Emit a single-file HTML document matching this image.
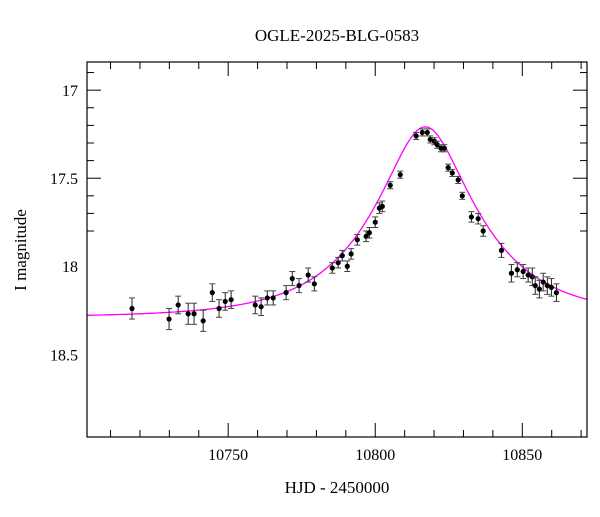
<!DOCTYPE html>
<html><head><meta charset="utf-8"><style>
body{margin:0;background:#fff;}
svg text{font-family:"Liberation Serif",serif;fill:#000;}
</style></head><body>
<svg id="chart" width="600" height="512" xmlns="http://www.w3.org/2000/svg">
<rect width="600" height="512" fill="#fff"/>
<text x="337" y="41" font-size="17" text-anchor="middle">OGLE-2025-BLG-0583</text>
<text x="337" y="493" font-size="17" text-anchor="middle">HJD - 2450000</text>
<text transform="translate(26,250) rotate(-90)" font-size="17" text-anchor="middle">I magnitude</text>
<g id="ticks"></g>
<g id="model"></g>
<g id="points"></g>
<rect x="87" y="62" width="500" height="375" fill="none" stroke="#000" stroke-width="1.2"/>
</svg>
<script>
const hjd=[10717.3,10729.9,10733.0,10736.4,10738.4,10741.5,10744.6,10746.9,10749.0,10751.0,10759.2,10761.2,10763.3,10765.3,10769.7,10771.8,10774.1,10777.2,10779.3,10785.4,10787.4,10788.8,10790.5,10791.8,10793.9,10796.9,10798.0,10800.0,10801.4,10802.4,10805.1,10808.5,10813.9,10816.0,10817.7,10818.7,10820.1,10821.1,10822.4,10823.5,10824.8,10826.2,10828.2,10829.6,10832.7,10835.0,10836.7,10842.9,10846.3,10848.3,10850.3,10852.0,10853.4,10854.4,10855.8,10857.1,10858.5,10859.9,10861.6];
const mag=[18.24,18.30,18.22,18.27,18.27,18.31,18.15,18.24,18.20,18.19,18.22,18.23,18.18,18.18,18.15,18.07,18.11,18.05,18.10,18.01,17.98,17.94,18.00,17.93,17.85,17.83,17.81,17.75,17.67,17.66,17.54,17.48,17.26,17.24,17.24,17.28,17.29,17.31,17.33,17.33,17.44,17.47,17.51,17.60,17.72,17.73,17.80,17.91,18.04,18.02,18.03,18.05,18.06,18.11,18.13,18.09,18.11,18.12,18.15];
const err=[0.06,0.06,0.05,0.06,0.06,0.06,0.05,0.05,0.05,0.05,0.05,0.05,0.04,0.04,0.04,0.04,0.04,0.04,0.04,0.03,0.03,0.03,0.03,0.03,0.03,0.03,0.03,0.03,0.03,0.03,0.02,0.02,0.02,0.02,0.02,0.02,0.02,0.02,0.02,0.02,0.02,0.02,0.02,0.02,0.03,0.03,0.03,0.04,0.05,0.04,0.04,0.04,0.05,0.05,0.05,0.05,0.05,0.05,0.05];
const xTicks=[10750,10800,10850];
const yTicks=[17,17.5,18,18.5];
const fit={t0:10817,u0:0.39,tE:33.5,base:18.29};
const X0=10702,X1=10872,Y0=16.84,Y1=18.97;
const L=87,R=587,T=62,B=437;
const sx=v=>L+(v-X0)/(X1-X0)*(R-L);
const sy=v=>T+(v-Y0)/(Y1-Y0)*(B-T);
const NS="http://www.w3.org/2000/svg";
function mk(tag,attrs,parent){const e=document.createElementNS(NS,tag);for(const k in attrs)e.setAttribute(k,attrs[k]);parent.appendChild(e);return e;}
const tg=document.getElementById('ticks');
for(let v=10710;v<=10870;v+=10){const x=sx(v);const big=v%50===0;const l=big?14:7;
 const a=mk('line',{x1:x,x2:x,y1:B,y2:B-l,stroke:'#000','stroke-width':1},tg);
 
 const b=mk('line',{x1:x,x2:x,y1:T,y2:T+l,stroke:'#000','stroke-width':1},tg);
 }
for(let i=9;i<=18;i++){const v=i/10+16;const y=sy(v);const big=(i%5===0);const l=big?14:7;
 const a=mk('line',{x1:L,x2:L+l,y1:y,y2:y,stroke:'#000','stroke-width':1},tg);
 
 const b=mk('line',{x1:R,x2:R-l,y1:y,y2:y,stroke:'#000','stroke-width':1},tg);
 }
xTicks.forEach(v=>{const t=mk('text',{x:sx(v),y:B+23,'font-size':16,'text-anchor':'middle'},tg);t.textContent=v;
 });
yTicks.forEach(v=>{const t=mk('text',{x:L-9,y:sy(v)+6,'font-size':16,'text-anchor':'end'},tg);t.textContent=v;
 });
let d='';
for(let t=X0;t<=X1;t+=0.5){const tau=(t-fit.t0)/fit.tE;const u=Math.sqrt(tau*tau+fit.u0*fit.u0);
 const A=(u*u+2)/(u*Math.sqrt(u*u+4));const m=fit.base-2.5*Math.log10(A);
 d+=(d?'L':'M')+sx(t).toFixed(1)+','+sy(m).toFixed(1);}
const mp=mk('path',{d:d,fill:'none',stroke:'#ff00ff','stroke-width':1.3},document.getElementById('model'));


const pg=document.getElementById('points');
hjd.forEach((t,i)=>{const x=sx(t),y=sy(mag[i]),y1=sy(mag[i]-err[i]),y2=sy(mag[i]+err[i]);
 const g=mk('g',{},pg);
 
 
 mk('line',{x1:x,x2:x,y1:y1,y2:y2,stroke:'#222','stroke-width':1},g);
 mk('line',{x1:x-3,x2:x+3,y1:y1,y2:y1,stroke:'#444','stroke-width':1},g);
 mk('line',{x1:x-3,x2:x+3,y1:y2,y2:y2,stroke:'#444','stroke-width':1},g);
 mk('circle',{cx:x,cy:y,r:2.6,fill:'#000'},g);});
</script>
</body></html>
